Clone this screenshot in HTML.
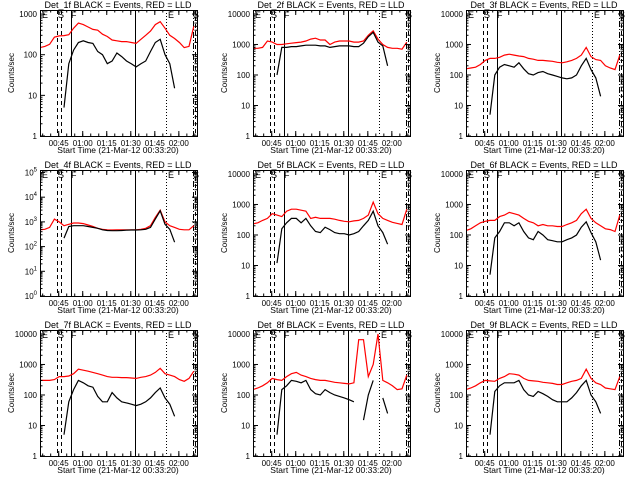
<!DOCTYPE html>
<html><head><meta charset="utf-8"><style>
html,body{margin:0;padding:0;background:#fff;}
svg{display:block;font-family:"Liberation Sans",sans-serif;}
</style></head><body>
<svg id="c" width="640" height="480" viewBox="0 0 640 480"></svg>
<script>
const times=[0,3,6,9,12,15,18,21,24,27,30,33,36,39,42,45,48,51,54,57,60,63,66,69,72,75,78,81,84,87,90,93,96];
const N=null;
const detNames=["1f","2f","3f","4f","5f","6f","7f","8f","9f"];
const red1=[150,160,180,270,290,295,310,450,600,550,480,420,400,320,280,230,220,210,210,200,190,240,300,380,550,650,450,300,250,200,150,160,500];
const black1=[N,N,N,N,N,5,60,130,200,220,200,190,120,100,60,70,110,90,70,60,50,60,70,120,200,240,100,60,15,N,N,N,N];
const red2=[750,750,800,1300,1200,1000,1000,1050,1100,1150,1200,1300,1500,1600,1400,1400,1000,1200,1300,1300,1300,1200,1200,1300,2000,2800,1500,1000,800,750,750,700,1200];
const black2=[N,N,N,N,N,100,800,800,850,850,900,950,950,950,900,900,800,850,900,900,900,850,850,1100,1800,2500,1200,900,200,N,N,N,N];
const red3=[160,170,180,220,300,350,350,380,450,480,450,420,400,350,330,300,300,290,280,260,250,270,300,350,450,800,400,320,300,200,170,150,450];
const black3=[N,N,N,N,N,5,100,180,220,200,180,250,160,110,100,120,130,110,100,90,80,75,80,100,200,350,150,80,20,N,N,N,N];
const red4=[480,500,600,1300,1000,700,800,900,900,850,750,650,550,500,480,470,480,480,480,480,480,500,550,700,1500,3000,1000,700,600,500,480,480,700];
const black4=[N,N,N,N,N,220,650,700,700,700,650,600,550,480,450,440,440,450,460,470,470,480,500,600,1300,2800,800,500,150,N,N,N,N];
const red5=[230,250,300,350,500,450,400,600,700,700,650,600,350,380,350,350,350,330,300,280,270,290,300,350,450,1200,500,350,300,260,240,220,700];
const black5=[N,N,N,N,N,12,160,250,350,350,250,350,200,130,120,180,150,120,110,110,100,110,130,200,300,600,200,120,50,N,N,N,N];
const red6=[140,160,200,250,280,300,300,400,450,550,500,450,350,280,250,200,220,200,200,190,190,220,250,300,500,700,350,250,200,160,150,130,450];
const black6=[N,N,N,N,N,5,80,130,250,250,200,250,130,80,70,130,100,70,65,60,60,70,80,100,180,270,120,60,15,N,N,N,N];
const red7=[300,300,300,320,400,400,420,500,700,650,600,550,500,450,400,380,380,370,370,360,350,380,400,450,550,750,500,450,400,320,280,350,600];
const black7=[N,N,N,N,N,5,60,150,300,250,200,180,90,60,60,120,80,60,55,50,45,50,60,80,120,170,80,50,20,N,N,N,N];
const red8=[150,170,200,250,350,320,300,400,500,550,450,400,350,320,300,300,280,260,250,240,230,250,6500,6500,400,1000,10000,300,250,200,150,160,450];
const black8=[N,N,N,N,N,5,150,200,300,280,250,300,150,110,100,150,120,100,90,80,70,60,N,15,100,300,N,80,25,N,N,N,N];
const red9=[150,170,200,250,300,290,280,350,400,500,480,450,350,300,290,280,260,250,240,220,220,250,280,300,350,700,350,250,220,170,160,150,400];
const black9=[N,N,N,N,N,5,130,200,250,250,250,300,150,100,90,130,110,90,70,60,60,60,80,120,200,300,100,60,25,N,N,N,N];
const reds=[red1,red2,red3,red4,red5,red6,red7,red8,red9];
const blacks=[black1,black2,black3,black4,black5,black6,black7,black8,black9];
const logMaxes=[3.1,4.13,4.13,5.1,4.13,4.13,4.13,4.13,4.13];
const xTickMins=[11.667,26.667,41.667,56.667,71.667,86.667];
const xTickLabels=["00:45","01:00","01:15","01:30","01:45","02:00"];
const markerMins=[10.6,13.1,19.2,59.3,78.6,95.5,96.7];
const markerStyles=["4,3","4,3","","","1,2","6,2,1,2","4,3"];

const NS="http://www.w3.org/2000/svg";
const svg=document.getElementById('c');
function mk(tag,attrs,parent,text){const e=document.createElementNS(NS,tag);for(const k in attrs)e.setAttribute(k,attrs[k]);if(text!=null)e.textContent=text;parent.appendChild(e);return e;}

for(let p=0;p<9;p++){
  const ox=(p%3)*213, oy=Math.floor(p/3)*160;
  const L=ox+40,R=ox+197,T=oy+10,B=oy+136;
  const lmax=logMaxes[p];
  const xs=m=>L+(m/98)*(R-L);
  const ys=v=>B-(Math.log10(v)/lmax)*(B-T);
  const g=mk('g',{},svg);
  
  
  const clipId='cl'+p;
  const cp=mk('clipPath',{id:clipId},g);mk('rect',{x:L,y:T,width:R-L,height:B-T},cp);
  // markers
  const mg=mk('g',{'clip-path':'url(#'+clipId+')'},g);
  
  
  markerMins.forEach((m,i)=>{const x=Math.round(xs(m))+0.5;const a={x1:x,x2:x,y1:T,y2:B,stroke:'#000','stroke-width':1};if(markerStyles[i])a['stroke-dasharray']=markerStyles[i];mk('line',a,mg);});
  // series
  function series(arr,color,name){
    let d='';let pen=false;
    arr.forEach((v,i)=>{if(v==null){pen=false;return;}const x=xs(times[i]),y=ys(v);d+=(pen?'L':'M')+x.toFixed(1)+' '+y.toFixed(1)+' ';pen=true;});
    const el=mk('path',{d:d,fill:'none',stroke:color,'stroke-width':1.2,'clip-path':'url(#'+clipId+')'},g);
    
    
  }
  series(reds[p],'#ff0000','lld-series');
  series(blacks[p],'#000000','events-series');
  // box
  const box=mk('rect',{x:L+0.5,y:T+0.5,width:R-L,height:B-T,fill:'none',stroke:'#000','stroke-width':1},g);
  
  
  // y ticks
  const maxDec=Math.floor(lmax);
  for(let d=0;d<=maxDec;d++){
    const y=ys(Math.pow(10,d));
    mk('line',{x1:L,x2:L+5,y1:y,y2:y,stroke:'#000'},g);
    mk('line',{x1:R-5,x2:R,y1:y,y2:y,stroke:'#000'},g);
    let lab;
    if(p===3){lab=mk('text',{x:L-3,y:y+3,'font-size':8,'text-anchor':'end'},g);lab.textContent='10';mk('tspan',{dy:-4,'font-size':6},lab,String(d));}
    else lab=mk('text',{x:L-3,y:y+3,'font-size':8,'text-anchor':'end'},g,String(Math.pow(10,d)));
    
    
    for(let k=2;k<10;k++){const v=k*Math.pow(10,d);if(Math.log10(v)>lmax)break;const yy=ys(v);
      mk('line',{x1:L,x2:L+2.5,y1:yy,y2:yy,stroke:'#000'},g);mk('line',{x1:R-2.5,x2:R,y1:yy,y2:yy,stroke:'#000'},g);}
  }
  // x ticks
  xTickMins.forEach((m,i)=>{const x=xs(m);
    mk('line',{x1:x,x2:x,y1:B,y2:B-5,stroke:'#000'},g);mk('line',{x1:x,x2:x,y1:T,y2:T+5,stroke:'#000'},g);
    const t=mk('text',{x:x,y:B+10,'font-size':8,'text-anchor':'middle'},g,xTickLabels[i]);
    
    
  });
  for(let m=1.667;m<98;m+=5){const x=xs(m);mk('line',{x1:x,x2:x,y1:B,y2:B-2.5,stroke:'#000'},g);mk('line',{x1:x,x2:x,y1:T,y2:T+2.5,stroke:'#000'},g);}
  // labels
  const ttl=mk('text',{x:ox+118,y:oy+8,'font-size':9,'text-anchor':'middle'},g,'Det_'+detNames[p]+' BLACK = Events, RED = LLD');
  
  
  const xt=mk('text',{x:ox+118,y:oy+153,'font-size':8.5,'text-anchor':'middle'},g,'Start Time (21-Mar-12 00:33:20)');
  
  
  const yt=mk('text',{x:0,y:0,'font-size':8,'text-anchor':'middle',transform:'translate('+(ox+14)+','+(oy+73)+') rotate(-90)'},g,'Counts/sec');
  
  
  [['E',L+2],['S',ox+58],['F',ox+71],['E',ox+168],['S',ox+193]].forEach(([c,x])=>{
    const t=mk('text',{x:x,y:T+8,'font-size':9},g,c);
    
    
  });
}
</script>
</body></html>
